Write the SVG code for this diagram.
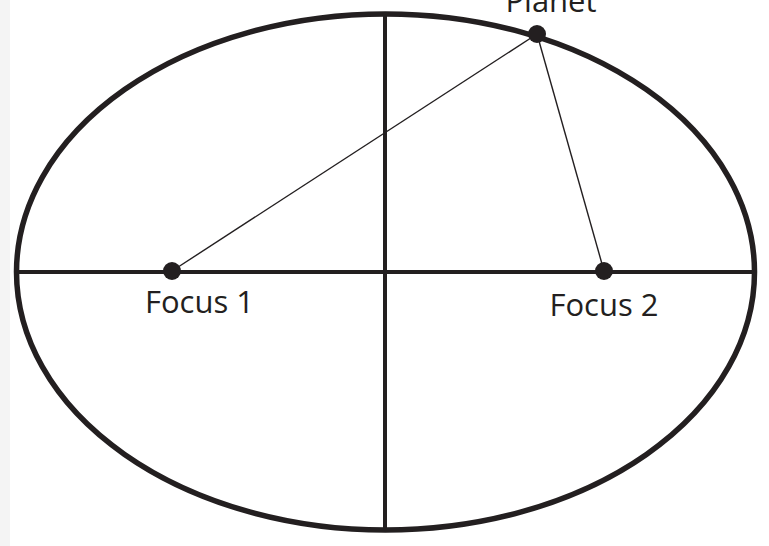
<svg xmlns="http://www.w3.org/2000/svg" width="769" height="546" viewBox="0 0 769 546">
<style>
.thick{fill:none;stroke:#231f20;stroke-width:5.5}
.axis{stroke:#231f20;stroke-width:4}
.thin{stroke:#231f20;stroke-width:1.4}
.dot{fill:#231f20}
.lbl{font-family:"Open Sans","Liberation Sans",sans-serif;font-size:31px;fill:#231f20}
</style>
<rect x="0" y="0" width="769" height="546" fill="#ffffff"/>
<rect x="0" y="0" width="10" height="546" fill="#f4f4f4"/>
<g id="orbit">
<ellipse class="thick" cx="385.5" cy="272" rx="369" ry="258"/>
<line class="axis" x1="16" y1="272" x2="755" y2="272"/>
<line class="axis" x1="385" y1="14" x2="385" y2="530"/>
</g>
<g id="connectors">
<line class="thin" x1="172" y1="271" x2="537" y2="34"/>
<line class="thin" x1="537" y1="34" x2="604" y2="271"/>
</g>
<g id="focus1">
<circle class="dot" cx="172" cy="271" r="9"/>
<text class="lbl" x="199.5" y="313" text-anchor="middle">Focus 1</text>
</g>
<g id="focus2">
<circle class="dot" cx="604" cy="271" r="9"/>
<text class="lbl" x="604" y="316" text-anchor="middle">Focus 2</text>
</g>
<g id="planet">
<circle class="dot" cx="537" cy="34" r="9"/>
<text class="lbl" x="551" y="12" text-anchor="middle">Planet</text>
</g>
</svg>
